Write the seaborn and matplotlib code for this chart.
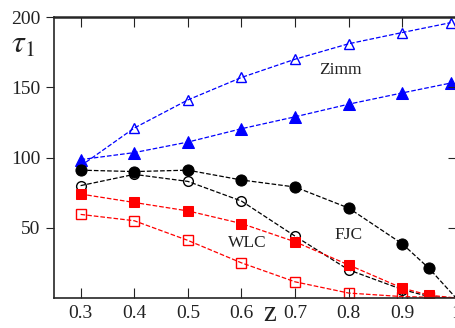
import matplotlib
matplotlib.use('Agg')
import matplotlib.pyplot as plt
import seaborn as sns
import numpy as np

# relaxation time tau_1 vs z
z_zimm = [0.3, 0.4, 0.5, 0.6, 0.7, 0.8, 0.9, 0.99]
zimm_open = [94, 121, 141, 157, 170, 181, 189, 196]
zimm_filled = [98.5, 103.5, 111, 120.5, 129, 138, 146, 153]

z_chain = [0.3, 0.4, 0.5, 0.6, 0.7, 0.8, 0.9, 0.95, 1.0]
fjc_filled = [91, 90, 91, 84, 79, 64, 38.5, 21, 0]
fjc_open = [80, 88, 83, 69, 44, 20, 6, 1, 0]
wlc_filled = [74, 68, 62, 53, 40, 23.5, 7, 2, 0]
wlc_open = [59.5, 55, 41, 25, 11.5, 3.5, 1, 0.5, 0]

sns.set_style("ticks")
plt.rcParams['font.family'] = ['Liberation Serif', 'DejaVu Serif']
plt.rcParams['mathtext.fontset'] = 'stix'

fig = plt.figure(figsize=(4.56, 3.28), dpi=100)
ax = fig.add_axes([0.118, 0.0915, 0.882, 0.8565])

blue, red, black = '#0000ff', '#ff0000', '#000000'
dash = dict(linestyle='--', dashes=(3, 1.6), linewidth=0.9)

sns.lineplot(x=z_zimm, y=zimm_open, color=blue, marker='^', markersize=7,
             markerfacecolor='none', markeredgecolor=blue, markeredgewidth=1.0, ax=ax, **dash)
sns.lineplot(x=z_zimm, y=zimm_filled, color=blue, marker='^', markersize=8,
             markeredgecolor=blue, ax=ax, **dash)

last = list(range(len(z_chain) - 1))
sns.lineplot(x=z_chain, y=fjc_filled, color=black, marker='o', markersize=8,
             markeredgecolor=black, markevery=last, ax=ax, **dash)
sns.lineplot(x=z_chain, y=fjc_open, color=black, marker='o', markersize=7,
             markerfacecolor='none', markeredgecolor=black, markeredgewidth=1.0,
             markevery=last, ax=ax, **dash)
sns.lineplot(x=z_chain, y=wlc_filled, color=red, marker='s', markersize=7,
             markeredgecolor=red, markevery=last, ax=ax, **dash)
sns.lineplot(x=z_chain, y=wlc_open, color=red, marker='s', markersize=6.5,
             markerfacecolor='none', markeredgecolor=red, markeredgewidth=1.0,
             markevery=last, ax=ax, **dash)

ax.set_xlim(0.25, 1.0)
ax.set_ylim(0, 200)
ax.set_xticks([0.3, 0.4, 0.5, 0.6, 0.7, 0.8, 0.9, 1.0])
ax.set_xticklabels(['0.3', '0.4', '0.5', '0.6', '0.7', '0.8', '0.9', '1'])
ax.set_yticks([50, 100, 150, 200])

ax.tick_params(axis='x', direction='in', top=True, bottom=True, length=7,
               labelsize=14, colors='#222222', pad=5)
ax.tick_params(axis='y', direction='out', length=6, labelsize=14, colors='#222222')
for s in ax.spines.values():
    s.set_linewidth(1.2)
ax.spines['top'].set_linewidth(1.8)
ax.spines['right'].set_visible(False)

# inward ticks on right side
ax2 = ax.twinx()
ax2.set_ylim(0, 200)
ax2.set_yticks([50, 100, 150, 200])
ax2.tick_params(axis='y', direction='in', length=6, labelright=False)
for s in ax2.spines.values():
    s.set_visible(False)

ax.text(0.785, 162, 'Zimm', fontsize=12.5, ha='center', va='center', color='#222222')
ax.text(0.80, 45, 'FJC', fontsize=12.5, ha='center', va='center', color='#222222')
ax.text(0.61, 39, 'WLC', fontsize=12.5, ha='center', va='center', color='#222222')

fig.text(23 / 456, 1 - 45 / 328, r'$\tau_1$', fontsize=23, ha='center', va='center',
         color='#222222')
fig.text(270 / 456, 1 - 314 / 328, 'z', fontsize=21, ha='center', va='center',
         color='#222222')

fig.savefig('out.png', dpi=100)
